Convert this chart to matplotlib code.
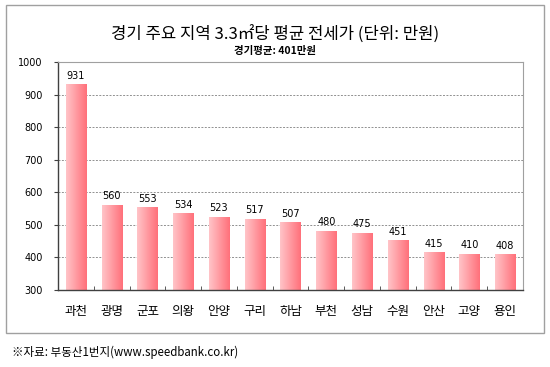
import matplotlib
matplotlib.use("Agg")
import matplotlib.pyplot as plt
import numpy as np
from matplotlib.patches import Rectangle

plt.rcParams['font.family'] = ['Noto Sans CJK KR', 'DejaVu Sans']

regions = ['과천', '광명', '군포', '의왕', '안양', '구리', '하남', '부천', '성남', '수원', '안산', '고양', '용인']
values = [931, 560, 553, 534, 523, 517, 507, 480, 475, 451, 415, 410, 408]
yticks = [300, 400, 500, 600, 700, 800, 900, 1000]
title = '경기 주요 지역 3.3㎡당 평균 전세가 (단위: 만원)'
subtitle = '경기평균: 401만원'
source = '※자료: 부동산1번지(www.speedbank.co.kr)'

fig = plt.figure(figsize=(5.5, 3.67), dpi=100)
fig.patch.set_facecolor('white')
# outer frame
fig.add_artist(Rectangle((6/550, 1-333/367), (544-6)/550, (333-5)/367, transform=fig.transFigure,
                         fill=False, edgecolor='#a0a0a0', linewidth=1))

ax = fig.add_axes([58/550, 1-290/367, (523-58)/550, (290-62)/367])
x = np.arange(len(regions))
bw = 0.56
bars = ax.bar(x, np.array(values) - 300, bottom=300, width=bw, color='none', edgecolor='none')

grad = np.zeros((1, 64, 3))
c1 = np.array([255, 196, 200]) / 255
c2 = np.array([255, 112, 122]) / 255
t = np.linspace(0, 1, 64)
grad[0] = c1[None, :] * (1 - t[:, None]) + c2[None, :] * t[:, None]
for b in bars:
    x0, y0, w, h = b.get_x(), b.get_y(), b.get_width(), b.get_height()
    ax.imshow(grad, extent=(x0, x0 + w, y0, y0 + h), aspect='auto', zorder=2, interpolation='bilinear')

for xi, v in zip(x, values):
    ax.text(xi, v + 12, str(v), ha='center', va='bottom', fontsize=7, family=['DejaVu Sans'])

ax.set_xlim(-0.5, len(regions) - 0.5)
ax.set_ylim(300, 1000)
ax.set_yticks(yticks)
ax.set_yticklabels([str(v) for v in yticks], fontsize=7, family=['DejaVu Sans'])
ax.yaxis.grid(True, linestyle=(0, (2, 1.5)), color='#909090', linewidth=0.7)
ax.set_axisbelow(True)
ax.set_xticks(x)
ax.set_xticklabels(regions, fontsize=9)
ax.tick_params(axis='x', length=0, pad=11)
ax.set_xticks(np.arange(len(regions) + 1) - 0.5, minor=True)
ax.tick_params(axis='x', which='minor', direction='in', length=3, color='#404040')
ax.tick_params(axis='y', length=3, direction='out', color='#404040', pad=8)
for s in ['top', 'right']:
    ax.spines[s].set_color('#a0a0a0')
for s in ['left', 'bottom']:
    ax.spines[s].set_color('#404040')
    ax.spines[s].set_linewidth(1.0)

fig.text(0.5, 1 - 35/367, title, ha='center', va='center', fontsize=12)
fig.text(0.5, 1 - 51/367, subtitle, ha='center', va='center', fontsize=7.5, fontweight='bold')
fig.text(12/550, 1 - 352/367, source, ha='left', va='center', fontsize=8.3)

fig.savefig('out.png', dpi=100)
